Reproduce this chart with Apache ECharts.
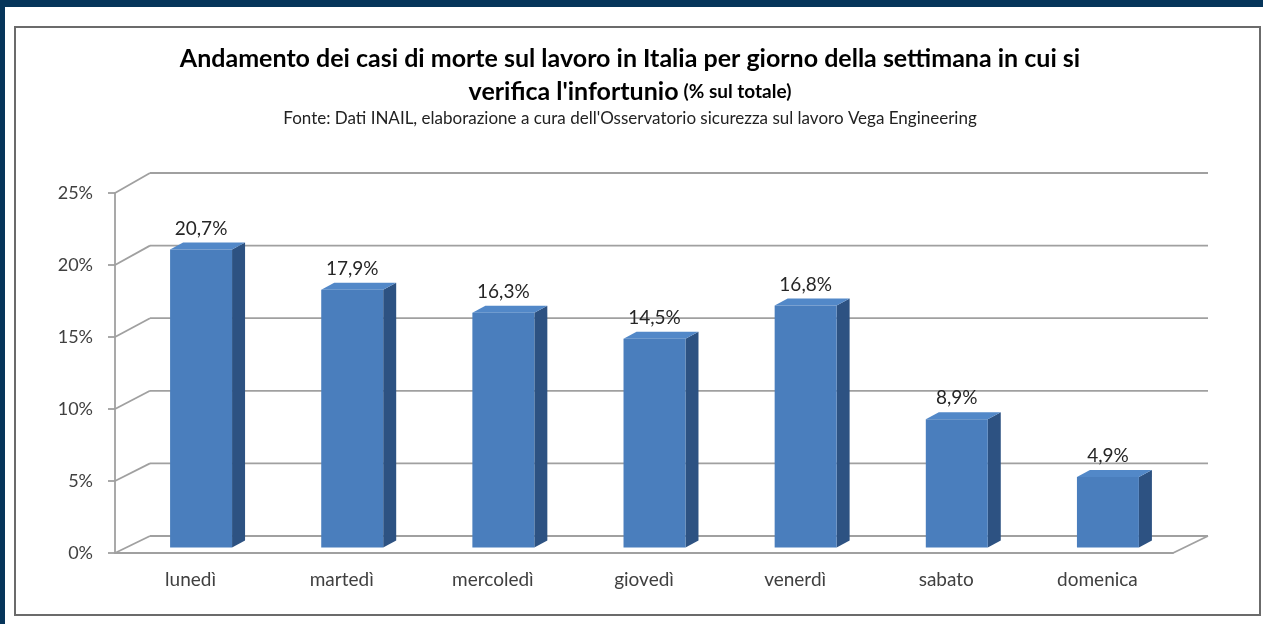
<!DOCTYPE html>
<html><head><meta charset="utf-8">
<script src="https://cdn.jsdelivr.net/npm/echarts@6/dist/echarts.min.js"></script>
<style>html,body{margin:0;padding:0;background:#06355a;overflow:hidden}#c{width:1263px;height:624px}</style>
</head><body><div id="c"></div>
<script>
const categories = ['lunedì', 'martedì', 'mercoledì', 'giovedì', 'venerdì', 'sabato', 'domenica'];
const values = [20.7, 17.9, 16.3, 14.5, 16.8, 8.9, 4.9];
const valueLabels = ['20,7%', '17,9%', '16,3%', '14,5%', '16,8%', '8,9%', '4,9%'];
const yTicks = [0, 5, 10, 15, 20, 25];
const yTickLabels = ['0%', '5%', '10%', '15%', '20%', '25%'];

const FONT = 'Lato, "Open Sans", sans-serif';
const GRID = '#a0a0a0';
const chart = echarts.init(document.getElementById('c'), null, {renderer: 'canvas'});

function wallItem(params, api) {
  const cs = params.coordSys;
  const v = api.value(1);
  const p = api.coord([0, v]);
  const y = p[1];
  const dx = 35, dy = -17 - 3 * v / 25;
  const x0 = cs.x, x1 = cs.x + cs.width;
  const st = {stroke: GRID, lineWidth: 1.8};
  const children = [
    {type: 'line', shape: {x1: x0, y1: y, x2: x0 + dx, y2: y + dy}, style: st},
    {type: 'line', shape: {x1: x0 + dx, y1: y + dy, x2: x1 + dx, y2: y + dy}, style: st}
  ];
  if (v === 0) {
    children.push({type: 'line', shape: {x1: x1, y1: y, x2: x1 + dx, y2: y + dy}, style: st});
  }
  return {type: 'group', children: children};
}

function barItem(params, api) {
  const i = api.value(0), v = api.value(1);
  const p0 = api.coord([i, 0]);
  const p1 = api.coord([i, v]);
  const band = api.size([1, 0])[0];
  const w = band * 0.41;
  const ox = 10.5, oy = -5.5, ddx = 13, ddy = -7;
  const fl = p0[0] - w / 2 + ox, fr = fl + w;
  const fb = p0[1] + oy, ft = p1[1] + oy;
  return {
    type: 'group',
    children: [
      {type: 'polygon', shape: {points: [[fr, ft], [fr + ddx, ft + ddy], [fr + ddx, fb + ddy], [fr, fb]]},
        style: {fill: '#2d5282'}},
      {type: 'polygon', shape: {points: [[fl, ft], [fl + ddx, ft + ddy], [fr + ddx, ft + ddy], [fr, ft]]},
        style: {fill: '#5288c8'}},
      {type: 'rect', shape: {x: fl, y: ft, width: w, height: fb - ft},
        style: {fill: '#4a7ebd'}},
      {type: 'text', style: {text: valueLabels[params.dataIndex], x: (fl + fr) / 2, y: ft - 21,
        align: 'center', verticalAlign: 'middle', fontSize: 19, fontFamily: FONT, fill: '#262626'}}
    ]
  };
}

chart.setOption({
  backgroundColor: '#06355a',
  animation: false,
  graphic: [
    {type: 'rect', z: -10, shape: {x: 5, y: 7, width: 1258, height: 617}, style: {fill: '#ffffff'}},
    {type: 'rect', z: -9, shape: {x: 15, y: 27, width: 1245, height: 588}, style: {fill: 'none', stroke: '#6b6b6b', lineWidth: 2}}
  ],
  title: {
    text: '{a|Andamento dei casi di morte sul lavoro in Italia per giorno della settimana in cui si}\n{a|verifica l\'infortunio} {b|(% sul totale)}',
    subtext: 'Fonte: Dati INAIL, elaborazione a cura dell\'Osservatorio sicurezza sul lavoro Vega Engineering',
    left: 625, top: 37, textAlign: 'center', itemGap: 9,
    textStyle: {rich: {
      a: {fontSize: 25, fontWeight: 'bold', fontFamily: FONT, color: '#000', lineHeight: 33},
      b: {fontSize: 19, fontWeight: 'bold', fontFamily: FONT, color: '#000', lineHeight: 33}
    }},
    subtextStyle: {fontSize: 17, color: '#222', fontFamily: FONT, lineHeight: 20}
  },
  grid: {left: 115, right: 90, top: 193, bottom: 71},
  xAxis: {
    type: 'category', data: categories,
    axisLine: {show: true, lineStyle: {color: GRID, width: 1.8}},
    axisTick: {show: false},
    axisLabel: {margin: 17, fontSize: 19, color: '#404040', fontFamily: FONT}
  },
  yAxis: {
    type: 'value', min: 0, max: 25, interval: 5,
    axisLine: {show: true, lineStyle: {color: GRID, width: 1.8}},
    axisTick: {show: true, length: 7, lineStyle: {color: GRID, width: 1.8}},
    splitLine: {show: false},
    axisLabel: {margin: 22, fontSize: 18, color: '#404040', fontFamily: FONT,
      formatter: v => yTickLabels[yTicks.indexOf(v)]}
  },
  series: [
    {type: 'custom', renderItem: wallItem, data: yTicks.map(v => [0, v]), z: 1, silent: true},
    {type: 'custom', renderItem: barItem, data: values.map((v, i) => [i, v]), z: 2}
  ]
});
</script></body></html>
